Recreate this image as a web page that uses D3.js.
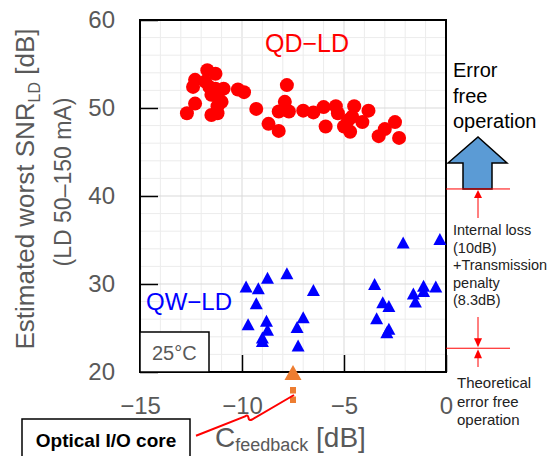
<!DOCTYPE html>
<html>
<head>
<meta charset="utf-8">
<script src="https://cdn.jsdelivr.net/npm/d3@7"></script>
<style>
body { margin: 0; background: #fff; }
svg { display: block; font-family: "Liberation Sans", Arial, sans-serif; }
</style>
</head>
<body>
<svg width="550" height="456"></svg>
<script>
// QD-LD (red circles)
var qdX = [-11.7, -11.3, -12.3, -12.4, -11.8, -11.6, -11.3, -10.9, -11.5, -11.2, -11.0, -12.3, -12.7, -11.5,
	-11.2, -11.2, -10.2, -9.9, -9.3, -7.8, -7.9, -8.2, -7.7, -8.7, -8.2, -7.0, -6.5, -6.0, -5.4, -5.3,
	-5.9, -5.0, -4.7, -4.8, -4.5, -4.6, -4.1, -3.8, -3.3, -3.0, -2.5, -2.3];
var qdY = [54.3, 53.9, 53.2, 52.4, 53.0, 52.4, 52.2, 52.2, 51.5, 51.3, 50.7, 50.5, 49.4, 49.2,
	49.4, 50.2, 52.1, 51.8, 49.9, 52.6, 50.7, 49.6, 49.6, 48.2, 47.4, 49.7, 49.5, 50.1, 50.2, 49.4,
	47.9, 47.9, 47.3, 48.6, 50.2, 49.0, 48.4, 49.7, 46.8, 47.6, 48.4, 46.6];
// QW-LD (blue triangles)
var qwX = [-9.8, -9.2, -8.75, -7.8, -6.5, -9.3, -9.7, -8.8, -8.75, -9.0, -9.0, -7.3, -7.0, -7.25,
	-2.1, -0.3, -3.5, -3.1, -2.8, -3.4, -2.8, -2.9, -1.6, -1.1, -1.1, -1.5, -0.5];
var qwY = [29.6, 29.4, 30.6, 31.1, 29.2, 27.7, 25.3, 25.7, 24.7, 23.8, 23.4, 25.0, 26.1, 22.9,
	34.6, 35.0, 29.9, 27.8, 27.4, 26.0, 24.8, 24.4, 28.8, 29.7, 29.1, 27.9, 29.6];

var xTicks = [-15, -10, -5, 0];
var yTicks = [20, 30, 40, 50, 60];
var errorFree = 40.8, theoretical = 22.7;
var ioCore = -7.5;

var gray = "#595959";
var svg = d3.select("svg");

var x = d3.scaleLinear().domain([-15, 0]).range([140, 446]),
	y = d3.scaleLinear().domain([20, 60]).range([372, 20]);

// grid
var grid = svg.append("g");
grid.selectAll(".gx").data(d3.range(-14, 0, 1)).enter().append("line")
	.attr("x1", d => x(d)).attr("x2", d => x(d)).attr("y1", y(20)).attr("y2", y(60))
	.attr("stroke", d => d % 5 === 0 ? "#d9d9d9" : "#ececec").attr("stroke-width", 1);
grid.selectAll(".gy").data(d3.range(22, 60, 2)).enter().append("line")
	.attr("y1", d => y(d)).attr("y2", d => y(d)).attr("x1", x(-15)).attr("x2", x(0))
	.attr("stroke", d => d % 10 === 0 ? "#d9d9d9" : "#ececec").attr("stroke-width", 1);

// axes (inner ticks)
var ay = svg.append("g").attr("transform", "translate(140,0)")
	.call(d3.axisLeft(y).tickValues(yTicks).tickSize(-18).tickPadding(25));
var ax = svg.append("g").attr("transform", "translate(0,372)")
	.call(d3.axisBottom(x).tickValues(xTicks).tickSize(-17).tickPadding(25));
[ax, ay].forEach(function(a) {
	a.select(".domain").remove();
	a.selectAll(".tick line").attr("stroke", "#000").attr("stroke-width", 1.5);
	a.selectAll(".tick text").attr("fill", gray).style("font-size", "24px")
		.style("font-family", "'Liberation Sans', Arial, sans-serif");
});

// frame
svg.append("rect").attr("x", 140).attr("y", 20).attr("width", 306).attr("height", 352)
	.attr("fill", "none").attr("stroke", "#000").attr("stroke-width", 2);

// 25°C box
svg.append("rect").attr("x", 140).attr("y", 332).attr("width", 69).attr("height", 40)
	.attr("fill", "#fff").attr("stroke", "#000").attr("stroke-width", 1.5);
svg.append("text").attr("x", 152).attr("y", 360).attr("fill", gray)
	.style("font-size", "20px").text("25°C");

// points
svg.append("g").selectAll("circle").data(qdX).enter().append("circle")
	.attr("cx", d => x(d)).attr("cy", (d, i) => y(qdY[i])).attr("r", 7).attr("fill", "#ff0000");
svg.append("g").selectAll("path").data(qwX).enter().append("path")
	.attr("transform", (d, i) => "translate(" + x(d) + "," + y(qwY[i]) + ")")
	.attr("d", "M0,-7L6.5,5H-6.5Z").attr("fill", "#0000ff");

// series labels
svg.append("text").attr("x", 307).attr("y", 52).attr("text-anchor", "middle")
	.attr("fill", "#ff0000").style("font-size", "25px").text("QD−LD");
svg.append("text").attr("x", 146).attr("y", 310)
	.attr("fill", "#0000ff").style("font-size", "24px").text("QW−LD");

// axis titles
var xt = svg.append("text").attr("x", 215).attr("y", 447).attr("fill", gray).style("font-size", "28px");
xt.append("tspan").text("C");
xt.append("tspan").attr("dy", 4).style("font-size", "18px").text("feedback");
xt.append("tspan").attr("dy", -4).text(" [dB]");

var yt = svg.append("text").attr("transform", "translate(34,189) rotate(-90)")
	.attr("text-anchor", "middle").attr("fill", gray).style("font-size", "26px");
yt.append("tspan").text("Estimated worst SNR");
yt.append("tspan").attr("dy", 6).style("font-size", "16px").text("LD");
yt.append("tspan").attr("dy", -6).text(" [dB]");
svg.append("text").attr("transform", "translate(71,182) rotate(-90)")
	.attr("text-anchor", "middle").attr("fill", gray).style("font-size", "23px").text("(LD 50–150 mA)");

// right annotations
var ann = svg.append("g");
["Error", "free", "operation"].forEach(function(t, i) {
	ann.append("text").attr("x", 453).attr("y", 77 + i * 25.5).style("font-size", "20px").text(t);
});
var ye = y(errorFree), yth = y(theoretical);
ann.append("path")
	.attr("d", "M448," + (ye - 26) + "L478," + (ye - 52) + "L507," + (ye - 26) + "L492," + (ye - 26) +
		"L492," + ye + "L463," + ye + "L463," + (ye - 26) + "Z")
	.attr("fill", "#5b9bd5").attr("stroke", "#000").attr("stroke-width", 1.5);
[ye, yth].forEach(function(v) {
	ann.append("line").attr("x1", 446).attr("x2", 510).attr("y1", v).attr("y2", v)
		.attr("stroke", "#ff0000").attr("stroke-width", 1);
});
ann.append("line").attr("x1", 478).attr("x2", 478).attr("y1", ye + 8).attr("y2", 218)
	.attr("stroke", "#ff0000").attr("stroke-width", 1);
ann.append("path").attr("d", "M478," + (ye + 1) + "L482," + (ye + 9) + "H474Z").attr("fill", "#ff0000");
ann.append("line").attr("x1", 478).attr("x2", 478).attr("y1", 317).attr("y2", yth - 8)
	.attr("stroke", "#ff0000").attr("stroke-width", 1);
ann.append("path").attr("d", "M478," + (yth - 1) + "L482," + (yth - 10) + "H474Z").attr("fill", "#ff0000");
ann.append("path").attr("d", "M478," + (yth + 1) + "L482," + (yth + 10) + "H474Z").attr("fill", "#ff0000");
ann.append("line").attr("x1", 478).attr("x2", 478).attr("y1", yth + 9).attr("y2", 367)
	.attr("stroke", "#ff0000").attr("stroke-width", 1);
["Internal loss", "(10dB)", "+Transmission", "penalty", "(8.3dB)"].forEach(function(t, i) {
	ann.append("text").attr("x", 453).attr("y", 235 + i * 17.5).attr("fill", "#222")
		.style("font-size", "14.5px").text(t);
});
["Theoretical", "error free", "operation"].forEach(function(t, i) {
	ann.append("text").attr("x", 457).attr("y", 388 + i * 18.5).attr("fill", "#222")
		.style("font-size", "15px").text(t);
});

// optical I/O core marker
var xc = x(ioCore);
svg.append("path").attr("d", "M" + xc + ",365L" + (xc + 8.5) + ",380H" + (xc - 8.5) + "Z").attr("fill", "#ed7d31");
svg.append("line").attr("x1", xc).attr("x2", xc).attr("y1", 387).attr("y2", 404)
	.attr("stroke", "#ed7d31").attr("stroke-width", 6).attr("stroke-dasharray", "6.5,3");
svg.append("path").attr("d", "M196,435.7L245,416.5Q248,414 248.5,418Q249,421 252,419.5L" + (xc + 1) + ",395")
	.attr("fill", "none").attr("stroke", "#ff0000").attr("stroke-width", 2);
svg.append("rect").attr("x", 22).attr("y", 419).attr("width", 168).attr("height", 50)
	.attr("fill", "#fff").attr("stroke", "#000").attr("stroke-width", 1.5);
svg.append("text").attr("x", 106).attr("y", 447).attr("text-anchor", "middle")
	.style("font-size", "19px").style("font-weight", "bold").text("Optical I/O core");
</script>
</body>
</html>
